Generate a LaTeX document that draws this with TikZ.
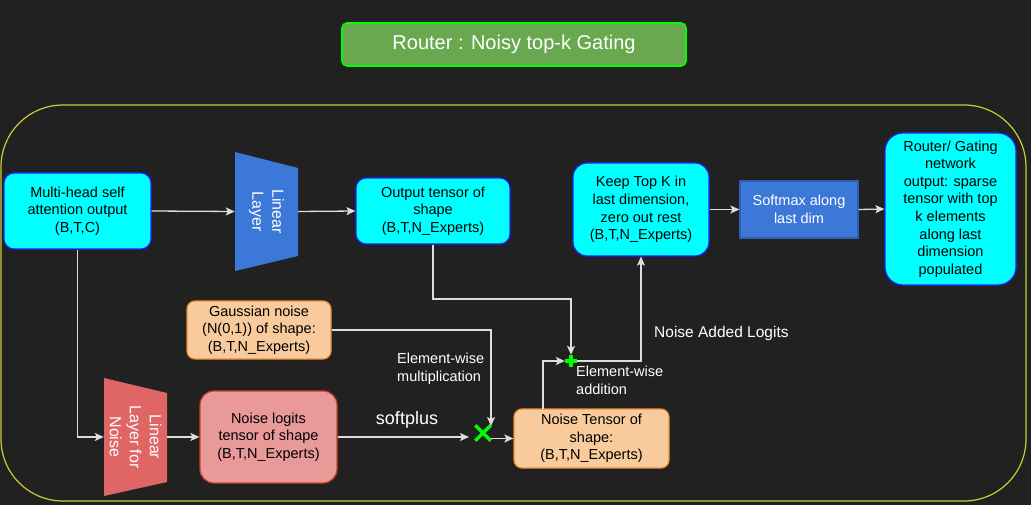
\documentclass[tikz,border=0pt]{standalone}
\usepackage{fontspec}
\setmainfont{Liberation Sans}
\usetikzlibrary{arrows.meta}
\definecolor{bg}{HTML}{212121}
\definecolor{frame}{HTML}{CDCD33}
\definecolor{titlefill}{HTML}{6AA84F}
\definecolor{titledraw}{HTML}{00FF00}
\definecolor{cyanfill}{HTML}{00FFFF}
\definecolor{cyandraw}{HTML}{2222FF}
\definecolor{peachfill}{HTML}{F9CB9C}
\definecolor{peachdraw}{HTML}{E69138}
\definecolor{pinkfill}{HTML}{EA9999}
\definecolor{pinkdraw}{HTML}{CC4125}
\definecolor{bluefill}{HTML}{3C78D8}
\definecolor{bluedraw}{HTML}{2F5FB0}
\definecolor{redtrap}{HTML}{E06666}
\definecolor{linec}{HTML}{DDDDDD}
\definecolor{markc}{HTML}{00FF00}
\begin{document}
\begin{tikzpicture}[x=1pt,y=-1pt,
  every node/.style={font=\fontsize{14.5}{17.6}\selectfont},
  box/.style={draw, line width=1.2pt, align=center, inner sep=0pt, text=black},
  cyanbox/.style={box, fill=cyanfill, draw=cyandraw},
  peachbox/.style={box, fill=peachfill, draw=peachdraw, rounded corners=8pt},
  pinkbox/.style={box, fill=pinkfill, draw=pinkdraw, rounded corners=14pt},
  anchorbox/.style={inner sep=0pt},
  traptext/.style={rotate=-90, align=center, text=white, font=\fontsize{16}{20}\selectfont},
  label/.style={text=white, align=left, inner sep=0pt},
  arr/.style={draw=linec, line width=1.3pt, -{Stealth[length=9pt,width=8pt,inset=2pt]}},
  markline/.style={draw=markc, line width=3.2pt}
]
\fill[bg] (0,0) rectangle (1031,505);
\useasboundingbox (0,0) rectangle (1031,505);

% title
\node[draw=titledraw, fill=titlefill, line width=1.6pt, rounded corners=5pt,
      minimum width=344pt, minimum height=43pt, inner sep=0pt, text=white,
      font=\fontsize{20}{24}\selectfont] (title) at (514,44.5) {Router : Noisy top-k Gating};

% frame
\draw[frame, line width=1.2pt, rounded corners=62pt] (1,105) rectangle (1026,501);

% boxes
\node[cyanbox, rounded corners=10pt, minimum width=147pt, minimum height=76pt] (multi) at (77.5,211)
  {Multi-head self\\attention output\\(B,T,C)};
\node[cyanbox, rounded corners=10pt, minimum width=154pt, minimum height=66pt] (out) at (433,211)
  {Output tensor of\\shape\\(B,T,N\_Experts)};
\node[peachbox, minimum width=144pt, minimum height=58pt] (gauss) at (259,330)
  {Gaussian noise\\(N(0,1)) of shape:\\(B,T,N\_Experts)};
\node[pinkbox, minimum width=137pt, minimum height=92pt] (logits) at (268.5,437)
  {Noise logits\\tensor of shape\\(B,T,N\_Experts)};
\node[peachbox, minimum width=155pt, minimum height=59pt] (nt) at (591.5,438.5)
  {Noise Tensor of\\shape:\\(B,T,N\_Experts)};
\node[cyanbox, rounded corners=14pt, minimum width=136pt, minimum height=93pt] (keep) at (641,209.5)
  {Keep Top K in\\last dimension,\\zero out rest\\(B,T,N\_Experts)};
\node[box, fill=bluefill, draw=bluedraw, text=white, minimum width=118pt, minimum height=57pt] (soft) at (799,209.5)
  {Softmax along\\last dim};
\node[cyanbox, rounded corners=18pt, minimum width=131pt, minimum height=152pt] (router) at (950.5,209)
  {Router/ Gating\\network\\output: sparse\\tensor with top\\k elements\\along last\\dimension\\populated};

% trapezoids
\fill[bluefill] (235,152) -- (298,168) -- (298,256) -- (235,271) -- cycle;
\node[anchorbox, minimum width=63pt, minimum height=119pt] (lin) at (266.5,211.5) {};
\node[traptext] at (lin.center) {Linear\\Layer};
\fill[redtrap] (104,378) -- (167,393) -- (167,482) -- (104,496) -- cycle;
\node[anchorbox, minimum width=63pt, minimum height=118pt] (nlin) at (135.5,437) {};
\node[traptext] at (nlin.center) {Linear\\Layer for\\Noise};

% operators
\node[anchorbox, minimum size=15pt] (mul) at (483,433) {};
\draw[markline] (mul.north west) -- (mul.south east) (mul.north east) -- (mul.south west);
\node[anchorbox, minimum size=12pt] (add) at (571,361) {};
\draw[markline] (add.north) -- (add.south) (add.west) -- (add.east);

% helper coordinates
\coordinate (j1) at (571,299);
\coordinate (gdown) at (491,426);
\coordinate (sp) at (469,437);
\coordinate (ntup) at (543,409);

% connectors
\draw[arr] (multi.east) -- (lin.west);
\draw[arr] (lin.east) -- (out.west);
\draw[arr] (multi.south) |- (nlin.west);
\draw[arr] (nlin.east) -- (logits.west);
\draw[arr] (logits.east) -- (sp);
\draw[arr] (gauss.east) -| (gdown);
\draw[arr] (mul.east |- nt.west) -- (nt.west);
\draw[arr] (out.south) |- (j1) -- (add.north);
\draw[arr] (ntup) |- (add.west);
\draw[arr] (add.east) -| (keep.south);
\draw[arr] (keep.east) -- (soft.west);
\draw[arr] (soft.east) -- (router.west);

% labels
\node[label, font=\fontsize{18}{20}\selectfont] (lsp) at (407,420) {softplus};
\node[label, anchor=west] (lmul) at (397,369) {Element-wise\\multiplication};
\node[label, anchor=west] (ladd) at (576,380.5) {Element-wise\\addition};
\node[label, anchor=west, font=\fontsize{15.5}{18}\selectfont] (lnal) at (654,333) {Noise Added Logits};
\end{tikzpicture}
\end{document}
